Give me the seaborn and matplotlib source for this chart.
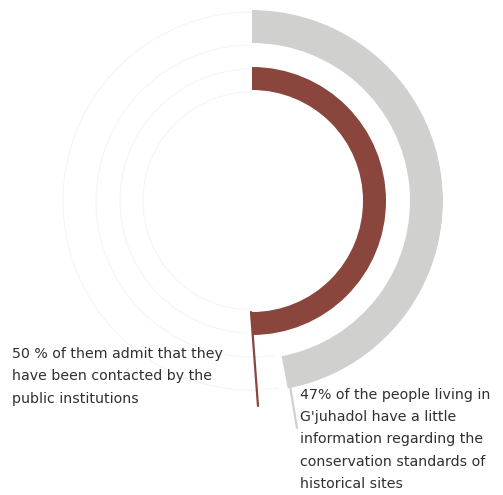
import numpy as np
import matplotlib
matplotlib.use("Agg")
import matplotlib.pyplot as plt
from matplotlib.lines import Line2D
import seaborn as sns

# ---- data ----
categories = ["Contacted by public institutions", "Little information on conservation standards"]
shares = [0.50, 0.47]
colors = ["#8a463d", "#d0d0ce"]
labels = [
    "50 % of them admit that they\nhave been contacted by the\npublic institutions",
    "47% of the people living in\nG'juhadol have a little\ninformation regarding the\nconservation standards of\nhistorical sites",
]

sns.set_theme(style="white")
plt.rcParams["font.family"] = ["DejaVu Sans"]

W, H = 503, 495
fig = plt.figure(figsize=(W / 100, H / 100), dpi=100)
fig.patch.set_facecolor("white")

# polar axes centred at pixel (252, 201), outer radius 191 px
cx, cy, R = 252, 201, 191
ax = fig.add_axes([(cx - R) / W, (H - cy - R) / H, 2 * R / W, 2 * R / H],
                  projection="polar")
ax.set_theta_zero_location("N")
ax.set_theta_direction(-1)
ax.set_ylim(0, R)
ax.set_axis_off()

ring_bottom = [111, 158]
ring_height = [23, 33]

theta = [s * 2 * np.pi for s in shares]

# faint background tracks on the uncovered part
for b, h, t in zip(ring_bottom, ring_height, theta):
    tt = np.linspace(t + 0.05, 2 * np.pi, 300)
    for r in (b - 2, b + h - 2):
        ax.plot(tt, np.full_like(tt, r), color="#f5f5f5", lw=0.8, zorder=0)

ax.bar([t / 2 for t in theta], ring_height, width=theta, bottom=ring_bottom,
       color=colors, edgecolor="none", align="center", zorder=2)

def px(x, y):
    return x / W, 1 - y / H

# leader lines
x0, y0 = px(251, 312); x1, y1 = px(258, 406)
fig.add_artist(Line2D([x0, x1], [y0, y1], transform=fig.transFigure,
                      color=colors[0], lw=1.6, zorder=1))
x0, y0 = px(286, 362); x1, y1 = px(297, 428)
fig.add_artist(Line2D([x0, x1], [y0, y1], transform=fig.transFigure,
                      color=colors[1], lw=1.6, zorder=1))

tx, ty = px(12, 347)
fig.text(tx, ty, labels[0], ha="left", va="top", fontsize=10.2,
         color="#303030", linespacing=1.75)
tx, ty = px(300, 388)
fig.text(tx, ty, labels[1], ha="left", va="top", fontsize=10.2,
         color="#303030", linespacing=1.75)

fig.savefig("out.png", dpi=100, facecolor="white")
